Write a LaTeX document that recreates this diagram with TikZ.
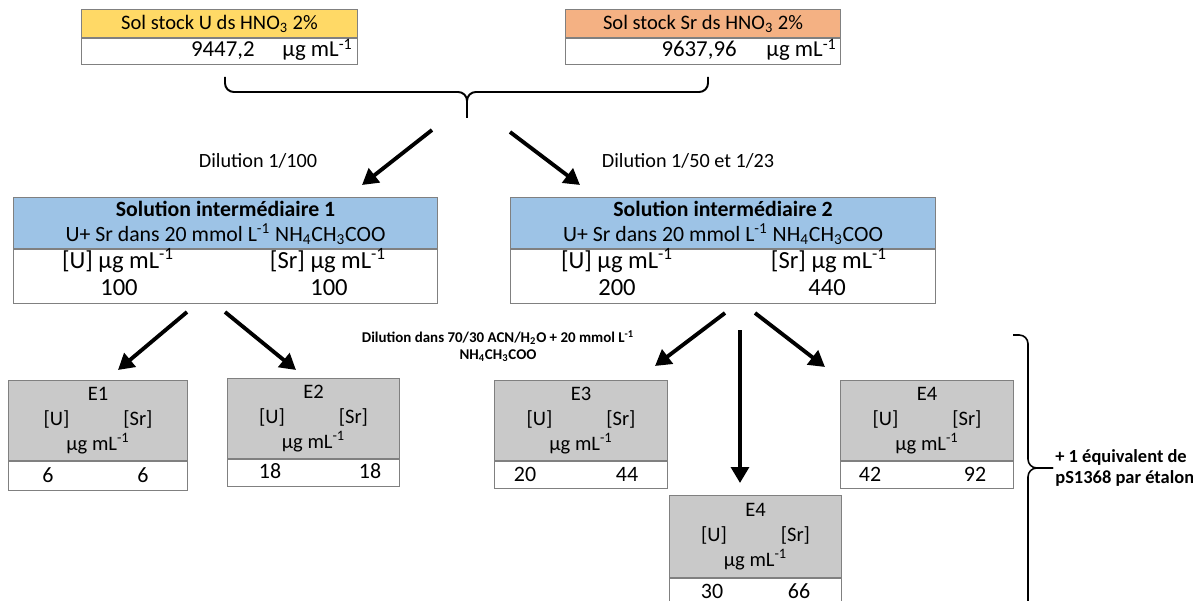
\documentclass[tikz,border=0pt]{standalone}
\usepackage{fontspec}
\setmainfont{Carlito}
\usetikzlibrary{positioning,arrows.meta}

\definecolor{stockU}{HTML}{FFD966}
\definecolor{stockSr}{HTML}{F4B183}
\definecolor{interblue}{HTML}{9DC3E6}
\definecolor{egray}{HTML}{C9C9C9}
\definecolor{boxline}{HTML}{808080}

\newcommand{\pxl}{0.02cm}
\newcommand{\ugml}{µg mL\textsuperscript{-1}}
\newcommand{\etab}[1]{#1\\\makebox[62pt]{[U]\hfill[Sr]}\\\ugml}

\tikzset{
  hdr/.style={draw=boxline, line width=0.6pt, inner sep=0pt, align=center, anchor=north west, font=\fontsize{11.7}{14.2}\selectfont},
  valrow/.style={draw=boxline, line width=0.6pt, fill=white, inner sep=0pt},
  txt/.style={inner sep=0pt, font=\fontsize{12.5}{14}\selectfont},
  bigtxt/.style={inner sep=0pt, font=\fontsize{14}{16}\selectfont},
  arr/.style={line width=2.2pt, -{Triangle[length=9pt,width=10pt]}},
  brace/.style={line width=1.1pt, rounded corners=5pt},
}

\begin{document}
\begin{tikzpicture}[x=\pxl, y=-\pxl]
\useasboundingbox (0,0) rectangle (1193,601);

% stock solutions
\node[hdr, fill=stockU, minimum width=276*\pxl, minimum height=28*\pxl] (stockU) at (81,9) {Sol stock U ds HNO\textsubscript{3} 2\%};
\node[valrow, minimum width=276*\pxl, minimum height=26*\pxl, below=0pt of stockU] (stockUrow) {};
\node[txt, anchor=base east, font=\fontsize{13}{14}\selectfont] (stockUnum) at (255,57) {9447,2};
\node[txt, anchor=base east, font=\fontsize{13}{14}\selectfont] (stockUunit) at (353,57) {\ugml};

\node[hdr, fill=stockSr, minimum width=275*\pxl, minimum height=28*\pxl] (stockSr) at (565,9) {Sol stock Sr ds HNO\textsubscript{3} 2\%};
\node[valrow, minimum width=275*\pxl, minimum height=26*\pxl, below=0pt of stockSr] (stockSrrow) {};
\node[txt, anchor=base east, font=\fontsize{13}{14}\selectfont] (stockSrnum) at (737,57) {9637,96};
\node[txt, anchor=base east, font=\fontsize{13}{14}\selectfont] (stockSrunit) at (837,57) {\ugml};

% brace under the stocks
\coordinate (mix) at (467,118);
\draw[brace] (225,77) |- (467,92) -- (mix);
\draw[brace] (708,77) |- (467,92) -- (mix);

% intermediate solutions
\node[hdr, fill=interblue, minimum width=424*\pxl, minimum height=51*\pxl, font=\fontsize{12.4}{14.2}\selectfont] (inter1) at (13,197)
  {{\bfseries Solution intermédiaire 1}\\U+ Sr dans 20 mmol L\textsuperscript{-1} NH\textsubscript{4}CH\textsubscript{3}COO};
\node[valrow, minimum width=424*\pxl, minimum height=54*\pxl, below=0pt of inter1] (inter1row) {};
\node[bigtxt, anchor=base] (inter1U) at (118,269) {[U] \ugml};
\node[bigtxt, anchor=base] (inter1Sr) at (328,269) {[Sr] \ugml};
\node[bigtxt, anchor=base] (inter1Uv) at (119,296) {100};
\node[bigtxt, anchor=base] (inter1Srv) at (329,296) {100};

\node[hdr, fill=interblue, minimum width=425*\pxl, minimum height=51*\pxl, font=\fontsize{12.4}{14.2}\selectfont] (inter2) at (510,197)
  {{\bfseries Solution intermédiaire 2}\\U+ Sr dans 20 mmol L\textsuperscript{-1} NH\textsubscript{4}CH\textsubscript{3}COO};
\node[valrow, minimum width=425*\pxl, minimum height=54*\pxl, below=0pt of inter2] (inter2row) {};
\node[bigtxt, anchor=base] (inter2U) at (617,269) {[U] \ugml};
\node[bigtxt, anchor=base] (inter2Sr) at (829,269) {[Sr] \ugml};
\node[bigtxt, anchor=base] (inter2Uv) at (617,296) {200};
\node[bigtxt, anchor=base] (inter2Srv) at (827,296) {440};

% first dilutions
\coordinate (sp1) at (432,130);
\coordinate (sp2) at (510,132);
\coordinate (in1) at (362,185);
\coordinate (in2) at (580,185);
\draw[arr] (sp1) -- (in1);
\draw[arr] (sp2) -- (in2);
\node[txt, anchor=base, font=\fontsize{11.5}{12}\selectfont] (dil1) at (258,168) {Dilution 1/100};
\node[txt, anchor=base, font=\fontsize{11.5}{12}\selectfont] (dil2) at (688,168) {Dilution 1/50 et 1/23};

% standards
\node[hdr, fill=egray, minimum width=179*\pxl, minimum height=80*\pxl] (E1) at (8,380) {\etab{E1}};
\node[valrow, minimum width=179*\pxl, minimum height=29*\pxl, below=0pt of E1] (E1row) {};
\node[txt, anchor=base] (E1U) at (48,482) {6};
\node[txt, anchor=base] (E1Sr) at (143,482) {6};

\node[hdr, fill=egray, minimum width=172*\pxl, minimum height=80*\pxl] (E2) at (227,378) {\etab{E2}};
\node[valrow, minimum width=172*\pxl, minimum height=27*\pxl, below=0pt of E2] (E2row) {};
\node[txt, anchor=base] (E2U) at (270,478) {18};
\node[txt, anchor=base] (E2Sr) at (370,478) {18};

\node[hdr, fill=egray, minimum width=173*\pxl, minimum height=80*\pxl] (E3) at (494,380) {\etab{E3}};
\node[valrow, minimum width=173*\pxl, minimum height=27*\pxl, below=0pt of E3] (E3row) {};
\node[txt, anchor=base] (E3U) at (525,481) {20};
\node[txt, anchor=base] (E3Sr) at (627,481) {44};

\node[hdr, fill=egray, minimum width=173*\pxl, minimum height=80*\pxl] (E4r) at (840,380) {\etab{E4}};
\node[valrow, minimum width=173*\pxl, minimum height=27*\pxl, below=0pt of E4r] (E4rrow) {};
\node[txt, anchor=base] (E4rU) at (870,481) {42};
\node[txt, anchor=base] (E4rSr) at (975,481) {92};

\node[hdr, fill=egray, minimum width=172*\pxl, minimum height=82*\pxl] (E4b) at (669,495) {\etab{E4}};
\node[valrow, minimum width=172*\pxl, minimum height=28*\pxl, below=0pt of E4b] (E4brow) {};
\node[txt, anchor=base] (E4bU) at (712,598) {30};
\node[txt, anchor=base] (E4bSr) at (799,598) {66};

% second dilutions
\coordinate (a1) at (187,312);
\coordinate (a2) at (225,312);
\coordinate (b1) at (725,313);
\coordinate (b2) at (740,330);
\coordinate (b3) at (755,313);
\draw[arr] (a1) -- (118,370);
\draw[arr] (a2) -- (296,370);
\draw[arr] (b1) -- (655,366);
\draw[arr] (b2) -- (740,483);
\draw[arr] (b3) -- (825,367);
\node[txt, align=center, font=\bfseries\fontsize{8.5}{9.5}\selectfont] (dil3) at (498,346)
  {Dilution dans 70/30 ACN/H\textsubscript{2}O + 20 mmol L\textsuperscript{-1}\\NH\textsubscript{4}CH\textsubscript{3}COO};

% right brace
\coordinate (tip) at (1053,468);
\draw[brace, line width=0.9pt] (1013,335) -| (1028,468) -- (tip);
\draw[brace, line width=0.9pt] (1028,601) -- (1028,468) -- (tip);
\node[txt, anchor=west, align=left, font=\bfseries\fontsize{10.5}{12}\selectfont] (pS) at (1055,468)
  {+ 1 équivalent de\\pS1368 par étalon};
\end{tikzpicture}
\end{document}
